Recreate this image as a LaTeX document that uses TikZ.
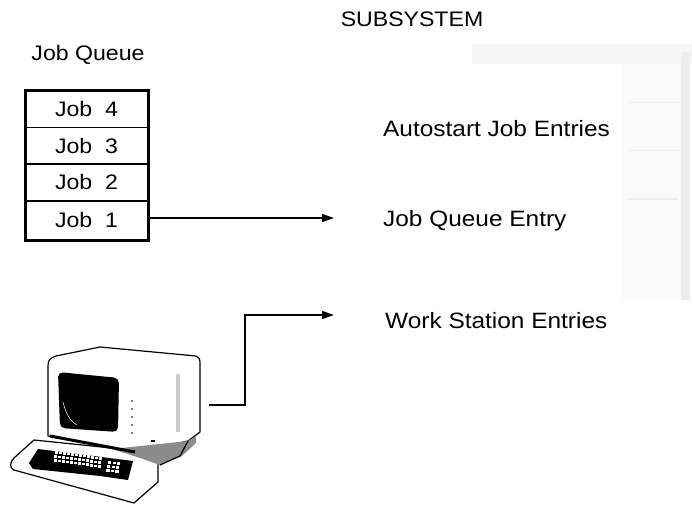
\documentclass[tikz,border=0pt]{standalone}
\usepackage{fontspec}
\setmainfont{Liberation Sans}[FakeStretch=1.1]
\usetikzlibrary{arrows.meta}
\begin{document}
\begin{tikzpicture}[x=1pt,y=-1pt,
  lbl/.style={inner sep=0pt,font=\fontsize{21}{25}\selectfont},
  entry/.style={inner sep=0pt,font=\fontsize{22.2}{26}\selectfont,anchor=base west},
  row/.style={draw,line width=1.3pt,minimum width=123pt,minimum height=36.5pt,inner sep=0pt,
    font=\fontsize{21}{25}\selectfont},
  flow/.style={line width=1.6pt,-{Triangle[length=12pt,width=8pt]}},
  wire/.style={line width=1.6pt}]
\useasboundingbox (0,0) rectangle (692,505);

% faint outline of the subsystem area
\fill[black!4] (472,44) rectangle (692,64);
\fill[black!7] (681,52) rectangle (690,300);
\fill[black!2] (622,64) rectangle (681,300);
\foreach \yy in {102,150,198} \fill[black!7] (628,\yy) rectangle (678,\yy+1.5);

% titles
\node[lbl,anchor=base] (subsys) at (412,27) {SUBSYSTEM};
\node[lbl,anchor=base] (jqtitle) at (88,61) {Job Queue};

% job queue
\node[row] (job4) at (86.5,109.25) {Job\ \ 4};
\node[row] (job3) at (86.5,145.75) {Job\ \ 3};
\node[row] (job2) at (86.5,182.25) {Job\ \ 2};
\node[row,minimum height=38.5pt] (job1) at (86.5,220.5) {};
\node[lbl,anchor=base] at (86.5,227) {Job\ \ 1};
\draw[line width=3pt] (25,91) rectangle (148,240);

% subsystem entries
\node[entry] (auto) at (383,136) {Autostart Job Entries};
\node[entry] (jqe) at (383,226) {Job Queue Entry};
\node[entry] (wse) at (385,328) {Work Station Entries};

\coordinate (jqin) at (334,218);
\coordinate (wsin) at (334,315);
\coordinate (term) at (209,405);
\coordinate (bend) at (245,405);

\draw[flow] (job1.east |- jqin) -- (jqin);
\draw[flow] (term) -- (bend) |- (wsin);

% ---- terminal ----
% keyboard plate
\draw[line width=1.2pt,fill=white,line join=round]
  (34,440) -- (150,452) -- (158,462) -- (158,482) -- (134,503)
  -- (14,470) .. controls (9,468) and (10,462) .. (14,458) -- cycle;
% key well
\fill[black] (29,463) -- (38,449) -- (133,461) -- (128,480) -- (100,476) -- (33,469) -- cycle;
% main keys
\foreach \i in {0,...,11}
  \foreach \j in {0,...,3}
    \fill[white] ({56+4*\i-0.8*\j},{447+0.55*\i+4*\j}) rectangle ++(3,2.6);
% numeric pad keys
\foreach \i in {0,...,2}
  \foreach \j in {0,...,2}
    \fill[white] ({108+4.5*\i-0.8*\j},{461+0.6*\i+4*\j}) rectangle ++(3.2,2.8);
% monitor body
\draw[line width=1.2pt,fill=white,line join=round]
  (48,366) .. controls (48,360) and (50,358) .. (56,356) -- (100,347)
  -- (196,356) .. controls (199,357) and (200,359) .. (200,363)
  -- (200,432) -- (188,441) -- (137,452) -- (48,436) -- cycle;
% base shading
\fill[black!45] (112,449) -- (188,441) -- (196,436) -- (196,443) -- (182,456) -- (160,465) -- (140,458) -- cycle;
\draw[line width=1.2pt] (188,441) -- (180,456) -- (160,465);
% lower front strip
\draw[line width=3pt] (50,436) -- (135,452);
% screen
\fill[black,rounded corners=5pt] (58,372) -- (119,378) -- (118,432) -- (60,428) -- cycle;
\draw[white,line width=0.5pt] (63,402) .. controls (66,414) and (70,421) .. (77,425);
% vents and side trim
\foreach \yy in {401,409,417,425,433} \fill (132,\yy) circle (0.9pt);
\fill[black!20] (176,374) rectangle (180,432);
\fill (151,440) rectangle (155,442);
\end{tikzpicture}
\end{document}
